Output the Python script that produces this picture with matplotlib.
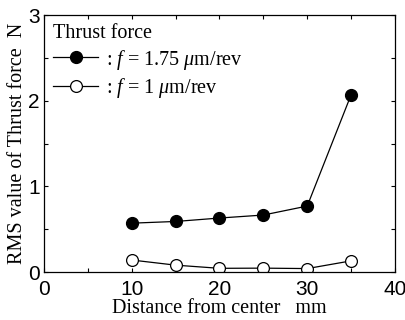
import matplotlib.pyplot as plt
from matplotlib.ticker import MultipleLocator

plt.rcParams['mathtext.fontset'] = 'custom'
plt.rcParams['mathtext.rm'] = 'Liberation Serif'
plt.rcParams['mathtext.it'] = 'Liberation Serif:italic'

distance = [10, 15, 20, 25, 30, 35]
rms_f175 = [0.57, 0.59, 0.63, 0.665, 0.77, 2.07]
rms_f1 = [0.14, 0.08, 0.043, 0.045, 0.04, 0.13]

fig = plt.figure(figsize=(4.06, 3.2), dpi=100)
ax = fig.add_axes([0.108, 0.15, 0.865, 0.803])

ax.plot(distance, rms_f175, '-o', color='black', lw=0.9, ms=8.5,
        mfc='black', mec='black', label=r': $f$ = 1.75 $\mu$m/rev')
ax.plot(distance, rms_f1, '-o', color='black', lw=0.9, ms=8.5,
        mfc='white', mec='black', mew=0.9, label=r': $f$ = 1 $\mu$m/rev')

ax.set_xlim(0, 40)
ax.set_ylim(0, 3)
ax.xaxis.set_major_locator(MultipleLocator(10))
ax.xaxis.set_minor_locator(MultipleLocator(5))
ax.yaxis.set_major_locator(MultipleLocator(1))
ax.yaxis.set_minor_locator(MultipleLocator(0.5))
ax.tick_params(which='both', direction='in', top=True, right=True,
               labelsize=15, length=3, width=0.8)
ax.tick_params(axis='x', pad=6)
ax.tick_params(axis='y', pad=3)
for lbl in ax.get_xticklabels() + ax.get_yticklabels():
    lbl.set_family('Liberation Sans')
for s in ax.spines.values():
    s.set_linewidth(0.9)

ax.set_xlabel('Distance from center   mm', family='Liberation Serif',
              fontsize=14.5, labelpad=0)
ax.set_ylabel('RMS value of Thrust force  N', family='Liberation Serif',
              fontsize=14.5, labelpad=1)

leg = ax.legend(loc='upper left', title='Thrust force', frameon=False,
                prop={'family': 'Liberation Serif', 'size': 14.5},
                handlelength=2.25, handletextpad=0.4, borderaxespad=0.25,
                labelspacing=0.22, alignment='left', borderpad=0.2)
leg.get_title().set_family('Liberation Serif')
leg.get_title().set_fontsize(14.5)

plt.savefig('out.png', dpi=100)
